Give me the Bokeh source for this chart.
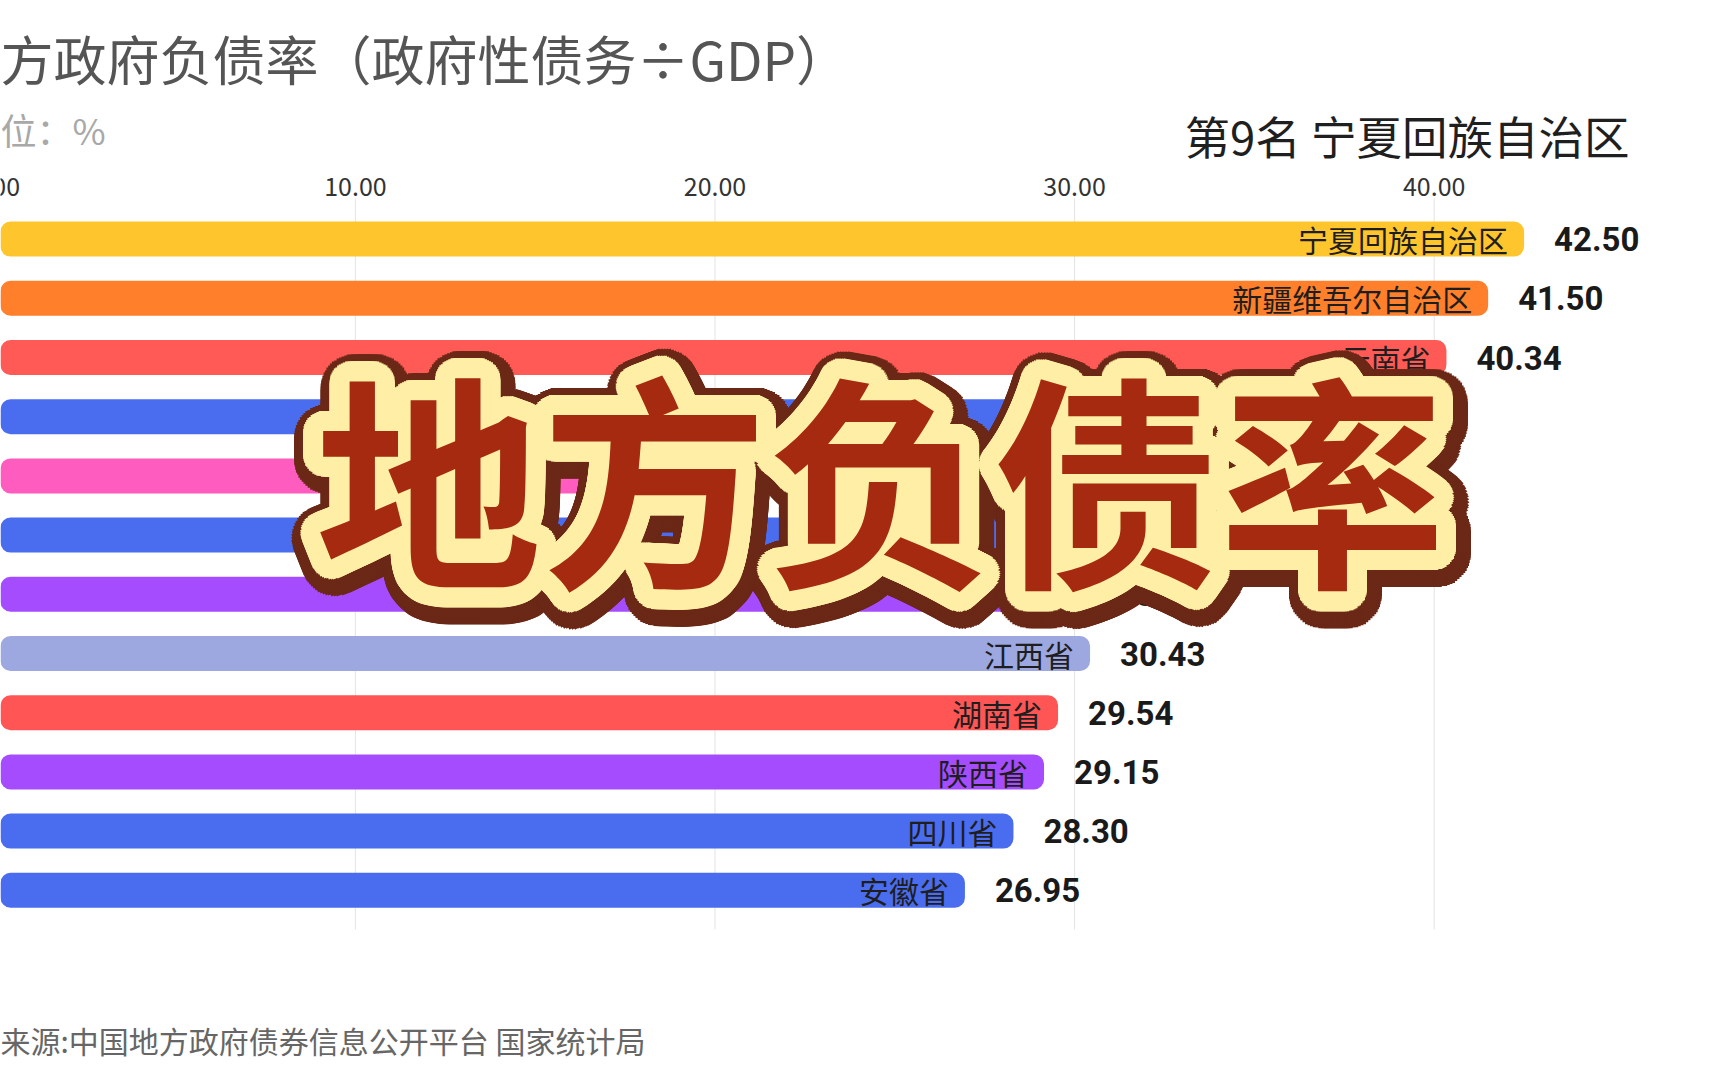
import numpy as np
from bokeh.plotting import figure
from bokeh.models import ColumnDataSource, Label, Range1d
from bokeh.core.properties import value
from bokeh.embed import file_html
from bokeh.resources import INLINE

# ---------------- data ----------------
provinces = ["宁夏回族自治区", "新疆维吾尔自治区", "云南省", "辽宁省", "广西壮族自治区", "河北省",
             "重庆市", "江西省", "湖南省", "陕西省", "四川省", "安徽省"]
ratios = [42.50, 41.50, 40.34, 36.78, 34.21, 32.60, 30.87, 30.43, 29.54, 29.15, 28.30, 26.95]
bar_colors = ["#FFC52C", "#FF7F2A", "#FF5A55", "#4A6DF0", "#FF5CBF", "#4A6DF0",
              "#A64CFF", "#9DA7E0", "#FF5555", "#A64CFF", "#4A6DF0", "#4A6DF0"]
rank = list(range(1, len(provinces) + 1))
tick_values = [0, 10, 20, 30, 40]
tick_labels = [f"{t:.2f}" for t in tick_values]

title_text = "方政府负债率（政府性债务÷GDP）"
unit_text = "位：%"
subtitle_text = "第9名 宁夏回族自治区"
source_text = "来源:中国地方政府债券信息公开平台 国家统计局"
overlay_text = "地方负债率"

# ---------------- layout ----------------
W, H = 1728, 1080
PX_PER_UNIT = 35.96
X0 = -4.7 / PX_PER_UNIT * -1      # data value at the left edge of the canvas
ROW_PX = 59.2                      # pixels per rank step
Y_TOP = 1 - 238.6 / ROW_PX         # data value at the top edge of the canvas
GRID_TOP = Y_TOP + 198 / ROW_PX
GRID_BOTTOM = Y_TOP + 929 / ROW_PX

p = figure(width=W, height=H, output_backend="svg", toolbar_location=None,
           x_range=Range1d(X0, X0 + W / PX_PER_UNIT),
           y_range=Range1d(Y_TOP + H / ROW_PX, Y_TOP),
           x_axis_location=None, y_axis_location=None,
           min_border=0, min_border_left=0, min_border_right=0,
           min_border_top=0, min_border_bottom=0)
p.outline_line_color = None
p.background_fill_color = "white"
p.border_fill_color = "white"
p.xgrid.visible = False
p.ygrid.visible = False

# grid lines and tick labels (top axis)
tsrc = ColumnDataSource(dict(t=tick_values, lab=tick_labels,
                             y0=[GRID_TOP] * len(tick_values), y1=[GRID_BOTTOM] * len(tick_values)))
p.segment(x0="t", x1="t", y0="y0", y1="y1", source=tsrc, line_color="#e3e3e3", line_width=1)
p.text(x="t", y="y0", text="lab", source=tsrc, y_offset=-3,
       text_align="center", text_baseline="bottom",
       text_font=value("Noto Sans CJK SC"), text_font_size="25px", text_color="#333333")

src = ColumnDataSource(dict(
    rank=rank, ratio=ratios, province=provinces, color=bar_colors,
    label=[f"{v:.2f}" for v in ratios],
))

p.hbar(y="rank", left=0, right="ratio", height=35 / ROW_PX, fill_color="color",
       line_color=None, border_radius=10, source=src)

p.text(x="ratio", y="rank", text="province", source=src, x_offset=-16,
       text_align="right", text_baseline="middle",
       text_font=value("Noto Sans CJK SC"), text_font_size="30px", text_color="#1e1e1e")

p.text(x="ratio", y="rank", text="label", source=src, x_offset=30,
       text_align="left", text_baseline="middle",
       text_font=value("Roboto"), text_font_style="bold",
       text_font_size="33px", text_color="#1a1a1a")

# ---------------- big overlay caption with outlines ----------------
OV_X, OV_Y = 24.6, 4.94


def ring_offsets(radius, cx, cy, n_outer):
    pts = [(cx, cy)]
    for frac, n in [(1 / 3, 10), (2 / 3, 24), (1.0, n_outer)]:
        r = radius * frac
        for k in range(n):
            a = 2 * np.pi * k / n
            pts.append((cx + r * np.cos(a), cy + r * np.sin(a)))
    return pts


for pts, col in [(ring_offsets(32, 3, 5, 72), "#6B2816"),
                 (ring_offsets(20, 0, 0, 56), "#FFEFA6"),
                 ([(0, 0)], "#A52A10")]:
    osrc = ColumnDataSource(dict(
        x=[OV_X] * len(pts), y=[OV_Y] * len(pts),
        dx=[q[0] for q in pts], dy=[q[1] for q in pts],
        t=[overlay_text] * len(pts),
    ))
    p.text(x="x", y="y", text="t", x_offset="dx", y_offset="dy", source=osrc,
           text_align="center", text_baseline="middle",
           text_font=value("Noto Sans CJK SC"), text_font_style="bold",
           text_font_size="226px", text_color=col)

# ---------------- titles ----------------


def sy(page_y):
    return H - page_y


p.add_layout(Label(x=0, y=sy(57), x_units="screen", y_units="screen", text=title_text,
                   text_font="Noto Sans CJK SC", text_font_size="53px", text_color="#555555",
                   text_align="left", text_baseline="middle"))
p.add_layout(Label(x=0, y=sy(128), x_units="screen", y_units="screen", text=unit_text,
                   text_font="Noto Sans CJK SC", text_font_size="36px", text_color="#a8a8a8",
                   text_align="left", text_baseline="middle"))
p.add_layout(Label(x=1629, y=sy(134), x_units="screen", y_units="screen", text=subtitle_text,
                   text_font="Noto Sans CJK SC", text_font_size="45.5px", text_color="#1f1f1f",
                   text_align="right", text_baseline="middle"))
p.add_layout(Label(x=0, y=sy(1039), x_units="screen", y_units="screen", text=source_text,
                   text_font="Noto Sans CJK SC", text_font_size="30px", text_color="#666666",
                   text_align="left", text_baseline="middle"))

open("out.html", "w").write(file_html(p, INLINE))
